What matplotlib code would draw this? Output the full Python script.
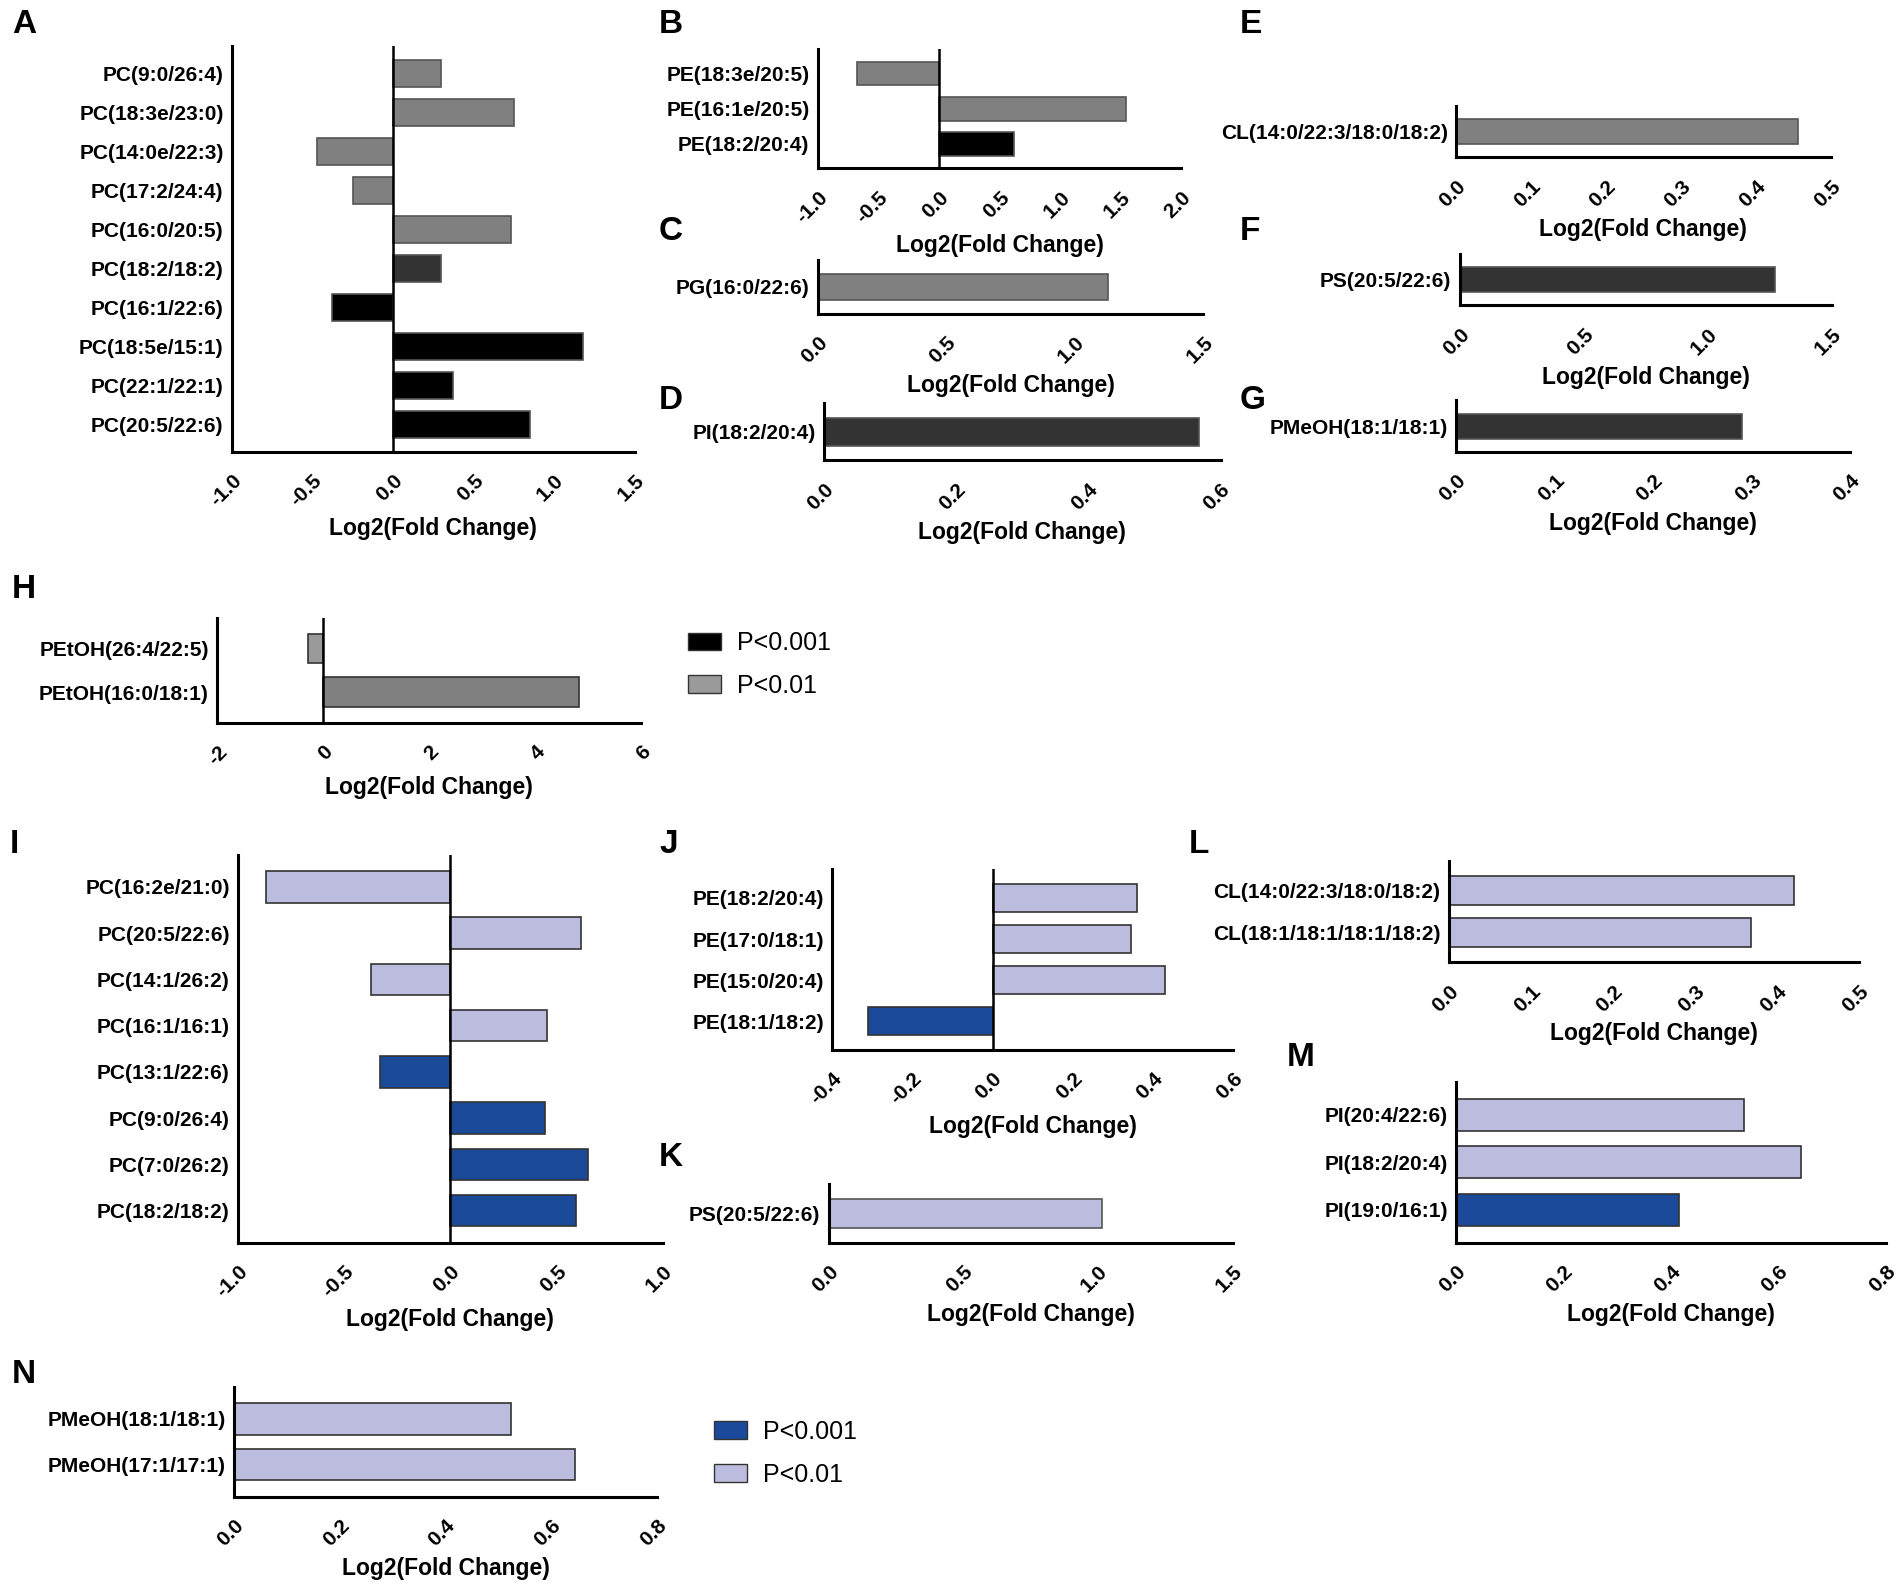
import matplotlib
matplotlib.use("Agg")
import matplotlib.pyplot as plt
from matplotlib.patches import Patch

plt.rcParams['font.family'] = ['Liberation Sans', 'DejaVu Sans']

# ---- data (log2 fold change) ----
a_labels = ['PC(9:0/26:4)', 'PC(18:3e/23:0)', 'PC(14:0e/22:3)', 'PC(17:2/24:4)', 'PC(16:0/20:5)',
            'PC(18:2/18:2)', 'PC(16:1/22:6)', 'PC(18:5e/15:1)', 'PC(22:1/22:1)', 'PC(20:5/22:6)']
a_values = [0.30, 0.75, -0.47, -0.25, 0.73, 0.30, -0.38, 1.18, 0.375, 0.85]
a_sig = ['p01', 'p01', 'p01', 'p01', 'p01', 'p001d', 'p001', 'p001', 'p001', 'p001']
a_ticks = [-1.0, -0.5, 0.0, 0.5, 1.0, 1.5]

b_labels = ['PE(18:3e/20:5)', 'PE(16:1e/20:5)', 'PE(18:2/20:4)']
b_values = [-0.68, 1.54, 0.62]
b_sig = ['p01', 'p01', 'p001']
b_ticks = [-1.0, -0.5, 0.0, 0.5, 1.0, 1.5, 2.0]

c_labels = ['PG(16:0/22:6)']
c_values = [1.13]
c_sig = ['p01']
c_ticks = [0.0, 0.5, 1.0, 1.5]

d_labels = ['PI(18:2/20:4)']
d_values = [0.567]
d_sig = ['p001d']
d_ticks = [0.0, 0.2, 0.4, 0.6]

e_labels = ['CL(14:0/22:3/18:0/18:2)']
e_values = [0.456]
e_sig = ['p01']
e_ticks = [0.0, 0.1, 0.2, 0.3, 0.4, 0.5]

f_labels = ['PS(20:5/22:6)']
f_values = [1.27]
f_sig = ['p001d']
f_ticks = [0.0, 0.5, 1.0, 1.5]

g_labels = ['PMeOH(18:1/18:1)']
g_values = [0.29]
g_sig = ['p001d']
g_ticks = [0.0, 0.1, 0.2, 0.3, 0.4]

h_labels = ['PEtOH(26:4/22:5)', 'PEtOH(16:0/18:1)']
h_values = [-0.28, 4.84]
h_sig = ['p01l', 'p01']
h_ticks = [-2, 0, 2, 4, 6]

i_labels = ['PC(16:2e/21:0)', 'PC(20:5/22:6)', 'PC(14:1/26:2)', 'PC(16:1/16:1)',
            'PC(13:1/22:6)', 'PC(9:0/26:4)', 'PC(7:0/26:2)', 'PC(18:2/18:2)']
i_values = [-0.87, 0.615, -0.375, 0.457, -0.33, 0.445, 0.646, 0.59]
i_sig = ['p01', 'p01', 'p01', 'p01', 'p001', 'p001', 'p001', 'p001']
i_ticks = [-1.0, -0.5, 0.0, 0.5, 1.0]

j_labels = ['PE(18:2/20:4)', 'PE(17:0/18:1)', 'PE(15:0/20:4)', 'PE(18:1/18:2)']
j_values = [0.36, 0.345, 0.43, -0.31]
j_sig = ['p01', 'p01', 'p01', 'p001']
j_ticks = [-0.4, -0.2, 0.0, 0.2, 0.4, 0.6]

k_labels = ['PS(20:5/22:6)']
k_values = [1.015]
k_sig = ['p01']
k_ticks = [0.0, 0.5, 1.0, 1.5]

l_labels = ['CL(14:0/22:3/18:0/18:2)', 'CL(18:1/18:1/18:1/18:2)']
l_values = [0.421, 0.369]
l_sig = ['p01', 'p01']
l_ticks = [0.0, 0.1, 0.2, 0.3, 0.4, 0.5]

m_labels = ['PI(20:4/22:6)', 'PI(18:2/20:4)', 'PI(19:0/16:1)']
m_values = [0.537, 0.642, 0.416]
m_sig = ['p01', 'p01', 'p001']
m_ticks = [0.0, 0.2, 0.4, 0.6, 0.8]

n_labels = ['PMeOH(18:1/18:1)', 'PMeOH(17:1/17:1)']
n_values = [0.524, 0.645]
n_sig = ['p01', 'p01']
n_ticks = [0.0, 0.2, 0.4, 0.6, 0.8]

# ---- styles ----
grey_cols = {'p01': '#808080', 'p01l': '#9a9a9a', 'p001': '#000000', 'p001d': '#333333'}
blue_cols = {'p01': '#bcbcde', 'p001': '#1b4a9b'}

W, H = 1560.0, 1304.0


def box(x0, y0, x1, y1):
    # pixel box of the reference (as displayed) -> figure fraction
    return [x0 / W, 1 - y1 / H, (x1 - x0) / W, (y1 - y0) / H]


fig = plt.figure(figsize=(19.04, 15.92), dpi=100)


def panel(rect, labels, values, sig, ticks, cols, edge, int_ticks=False):
    ax = fig.add_axes(rect)
    n = len(labels)
    ypos = list(range(n))
    ax.barh(ypos, values, height=0.68, color=[cols[s] for s in sig],
            edgecolor=edge, linewidth=1.2, zorder=2)
    ax.set_ylim(n - 1 + 0.7, -0.7)
    ax.set_xlim(ticks[0], ticks[-1])
    ax.set_yticks(ypos)
    ax.set_yticklabels(labels, fontsize=15, fontweight='bold')
    ax.set_xticks(ticks)
    if int_ticks:
        tl = ['%d' % t for t in ticks]
    else:
        tl = ['%.1f' % t for t in ticks]
    ax.set_xticklabels(tl, rotation=45, ha='right', va='top', rotation_mode='anchor',
                       fontsize=15, fontweight='bold')
    ax.tick_params(length=0, pad=6)
    ax.tick_params(axis='x', pad=14)
    for s in ['top', 'right']:
        ax.spines[s].set_visible(False)
    for s in ['left', 'bottom']:
        ax.spines[s].set_linewidth(2.2)
    if ticks[0] < 0:
        ax.axvline(0, color='black', lw=1.8, zorder=3)
    ax.set_xlabel('Log2(Fold Change)', fontsize=16.5, fontweight='bold', labelpad=5)
    return ax


panel(box(190, 38, 520, 370), a_labels, a_values, a_sig, a_ticks, grey_cols, '#555555')
panel(box(670, 40, 968, 138), b_labels, b_values, b_sig, b_ticks, grey_cols, '#555555')
panel(box(670, 213, 986, 257), c_labels, c_values, c_sig, c_ticks, grey_cols, '#555555')
panel(box(675, 330, 1000, 377), d_labels, d_values, d_sig, d_ticks, grey_cols, '#555555')
panel(box(1193, 87, 1500, 129), e_labels, e_values, e_sig, e_ticks, grey_cols, '#555555')
panel(box(1196, 208, 1501, 250), f_labels, f_values, f_sig, f_ticks, grey_cols, '#555555')
panel(box(1193, 328, 1516, 370), g_labels, g_values, g_sig, g_ticks, grey_cols, '#555555')
panel(box(178, 506, 525, 592), h_labels, h_values, h_sig, h_ticks, grey_cols, '#333333', int_ticks=True)

panel(box(195, 700, 543, 1018), i_labels, i_values, i_sig, i_ticks, blue_cols, '#333333')
panel(box(682, 712, 1010, 860), j_labels, j_values, j_sig, j_ticks, blue_cols, '#333333')
panel(box(679, 970, 1010, 1018), k_labels, k_values, k_sig, k_ticks, blue_cols, '#555555')
panel(box(1187, 705, 1523, 788), l_labels, l_values, l_sig, l_ticks, blue_cols, '#333333')
panel(box(1193, 886, 1545, 1018), m_labels, m_values, m_sig, m_ticks, blue_cols, '#333333')
panel(box(192, 1136, 538, 1226), n_labels, n_values, n_sig, n_ticks, blue_cols, '#333333')

# panel letters
letters = {'A': (10, 20), 'B': (540, 20), 'E': (1016, 20), 'C': (540, 190), 'F': (1016, 190),
           'D': (540, 328), 'G': (1016, 328), 'H': (10, 483), 'I': (8, 692), 'J': (540, 692),
           'L': (974, 692), 'K': (540, 948), 'M': (1054, 866), 'N': (10, 1126)}
for k, (x, y) in letters.items():
    fig.text(x / W, 1 - y / H, k, fontsize=24, fontweight='bold',
             ha='left', va='center')

# legends
leg_kw = dict(loc='upper left', frameon=False, fontsize=18, handlelength=1.3,
              handleheight=0.7, labelspacing=0.75, borderpad=0, borderaxespad=0,
              handletextpad=0.65)
top_handles = [Patch(facecolor='#000000', edgecolor='#333333'),
               Patch(facecolor='#9a9a9a', edgecolor='#333333')]
fig.legend(top_handles, ['P<0.001', 'P<0.01'], bbox_to_anchor=(564 / W, 1 - 517 / H), **leg_kw)
bot_handles = [Patch(facecolor='#1b4a9b', edgecolor='#333333'),
               Patch(facecolor='#bcbcde', edgecolor='#333333')]
fig.legend(bot_handles, ['P<0.001', 'P<0.01'], bbox_to_anchor=(585 / W, 1 - 1163 / H), **leg_kw)

fig.savefig('out.png', dpi=100, facecolor='white')
